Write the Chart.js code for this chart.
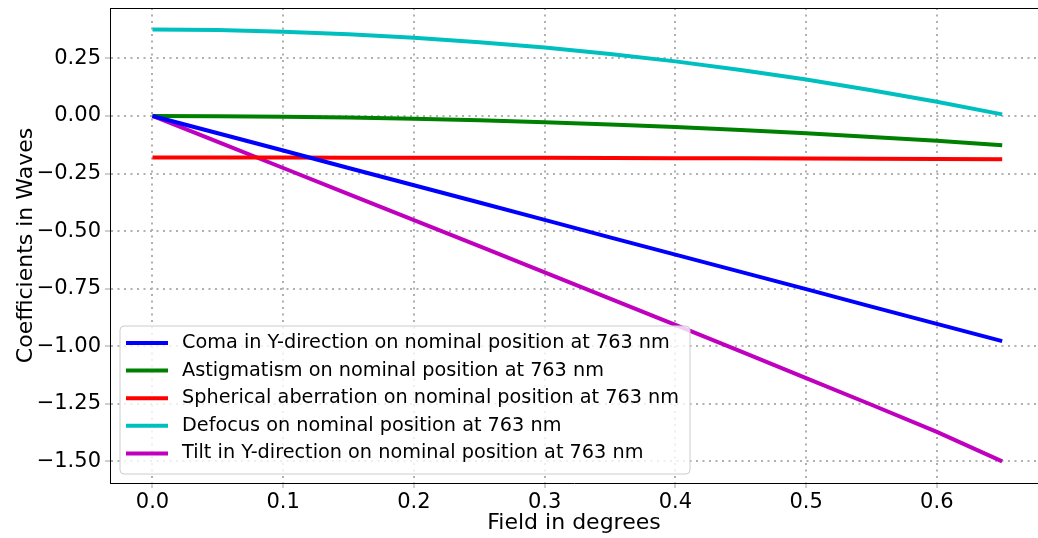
<!DOCTYPE html>
<html>
<head>
<meta charset="utf-8">
<script src="https://cdn.jsdelivr.net/npm/chart.js@4.4.0/dist/chart.umd.min.js"></script>
<style>
  html, body { margin: 0; padding: 0; background: #fff; overflow: hidden; }
  #wrap { width: 1038px; height: 538px; }
</style>
</head>
<body>
<div id="wrap"><canvas id="chart"></canvas></div>
<script>
// field positions (degrees)
const field = [0, 0.05, 0.1, 0.15, 0.2, 0.25, 0.3, 0.35, 0.4, 0.45, 0.5, 0.55, 0.6, 0.65];

// coefficient values (waves)
const coma = [0, -0.075, -0.15, -0.226, -0.301, -0.376, -0.451, -0.527, -0.602, -0.677, -0.752, -0.828, -0.903, -0.978];
const astig = [0, -0.001, -0.003, -0.007, -0.012, -0.019, -0.027, -0.037, -0.048, -0.061, -0.075, -0.091, -0.108, -0.127];
const spherical = [-0.180, -0.180, -0.180, -0.181, -0.181, -0.182, -0.182, -0.183, -0.184, -0.184, -0.185, -0.186, -0.187, -0.188];
const defocus = [0.375, 0.373, 0.366, 0.355, 0.340, 0.320, 0.297, 0.269, 0.237, 0.200, 0.158, 0.112, 0.062, 0.007];
const tilt = [0, -0.113, -0.226, -0.339, -0.452, -0.565, -0.679, -0.793, -0.907, -1.022, -1.138, -1.254, -1.372, -1.500];

const seriesNames = [
  "Coma in Y-direction on nominal position at 763 nm",
  "Astigmatism on nominal position at 763 nm",
  "Spherical aberration on nominal position at 763 nm",
  "Defocus on nominal position at 763 nm",
  "Tilt in Y-direction on nominal position at 763 nm",
];
const seriesColors = ["#0000ff", "#008000", "#ff0000", "#00bfbf", "#bf00bf"];
const seriesValues = [coma, astig, spherical, defocus, tilt];

const xTicks = [0, 0.1, 0.2, 0.3, 0.4, 0.5, 0.6];
const yTicks = [-1.5, -1.25, -1.0, -0.75, -0.5, -0.25, 0, 0.25];

const FONT = "DejaVu Sans";

const datasets = seriesNames.map((name, i) => ({
  label: name,
  data: field.map((x, j) => ({ x: x, y: seriesValues[i][j] })),
  borderColor: seriesColors[i],
  backgroundColor: seriesColors[i],
  borderWidth: 4,
  pointRadius: 0,
  tension: 0,
}));

// matplotlib style legend box inside the plot, bottom left
const boxLegend = {
  id: "boxLegend",
  afterDatasetsDraw(chart) {
    const c = chart.ctx;
    const x = 120, y = 326, w = 570, h = 148;
    c.save();
    c.beginPath();
    c.roundRect(x, y, w, h, 4);
    c.fillStyle = "rgba(255,255,255,0.8)";
    c.fill();
    c.strokeStyle = "#cccccc";
    c.lineWidth = 1;
    c.stroke();
    c.font = "19.25px '" + FONT + "'";
    c.textBaseline = "middle";
    chart.data.datasets.forEach((ds, i) => {
      const ly = y + 17 + i * 27.6;
      c.beginPath();
      c.moveTo(126, ly);
      c.lineTo(168, ly);
      c.strokeStyle = ds.borderColor;
      c.lineWidth = 4;
      c.stroke();
      c.fillStyle = "#000";
      c.fillText(ds.label, 182, ly);
    });
    c.restore();
  },
  afterDraw(chart) {
    const a = chart.chartArea;
    const c = chart.ctx;
    c.save();
    c.strokeStyle = "#000";
    c.lineWidth = 1;
    c.beginPath();
    c.moveTo(a.left, a.top + 0.5);
    c.lineTo(a.right, a.top + 0.5);
    c.stroke();
    c.restore();
  },
};

const fmt = (v, d) => {
  const s = Math.abs(v).toFixed(d);
  return (v < -1e-9 ? "\u2212" : "") + s;
};

new Chart(document.getElementById("chart"), {
  type: "line",
  data: { datasets },
  options: {
    responsive: true,
    maintainAspectRatio: false,
    animation: false,
    layout: { padding: { left: 0, right: 0, top: 8, bottom: 0 } },
    plugins: { legend: { display: false }, tooltip: { enabled: false } },
    scales: {
      x: {
        type: "linear",
        min: -0.0325,
        max: 0.6774,
        afterBuildTicks: (s) => { s.ticks = xTicks.map((v) => ({ value: v })); },
        afterFit: (s) => { s.height = 55; s.paddingRight = 0; s.paddingLeft = 0; },
        ticks: {
          color: "#000",
          font: { family: FONT, size: 21 },
          padding: 2,
          maxRotation: 0,
          callback: (v) => fmt(v, 1),
        },
        grid: { color: "#b0b0b0", lineWidth: 2, tickLength: 5, tickColor: "#a0a0a0", tickWidth: 1 },
        border: { display: true, color: "#000", width: 1, dash: [2, 4.5] },
        title: {
          display: true,
          text: "Field in degrees",
          color: "#000",
          font: { family: FONT, size: 22, lineHeight: 1.1 },
          padding: { top: 0, bottom: 3 },
        },
      },
      y: {
        type: "linear",
        min: -1.59375,
        max: 0.46875,
        afterBuildTicks: (s) => { s.ticks = yTicks.map((v) => ({ value: v })); },
        afterFit: (s) => { s.width = 110; s.paddingTop = 0; s.paddingBottom = 0; },
        ticks: {
          color: "#000",
          font: { family: FONT, size: 21 },
          padding: 4,
          callback: (v) => fmt(v, 2),
        },
        grid: { color: "#b0b0b0", lineWidth: 2, tickLength: 5, tickColor: "#a0a0a0", tickWidth: 1 },
        border: { display: true, color: "#000", width: 1, dash: [2, 4.5] },
        title: {
          display: true,
          text: "Coefficients in Waves",
          color: "#000",
          font: { family: FONT, size: 22, lineHeight: 1.1 },
          padding: { top: 14, bottom: 0 },
        },
      },
    },
  },
  plugins: [boxLegend],
});
</script>
</body>
</html>
